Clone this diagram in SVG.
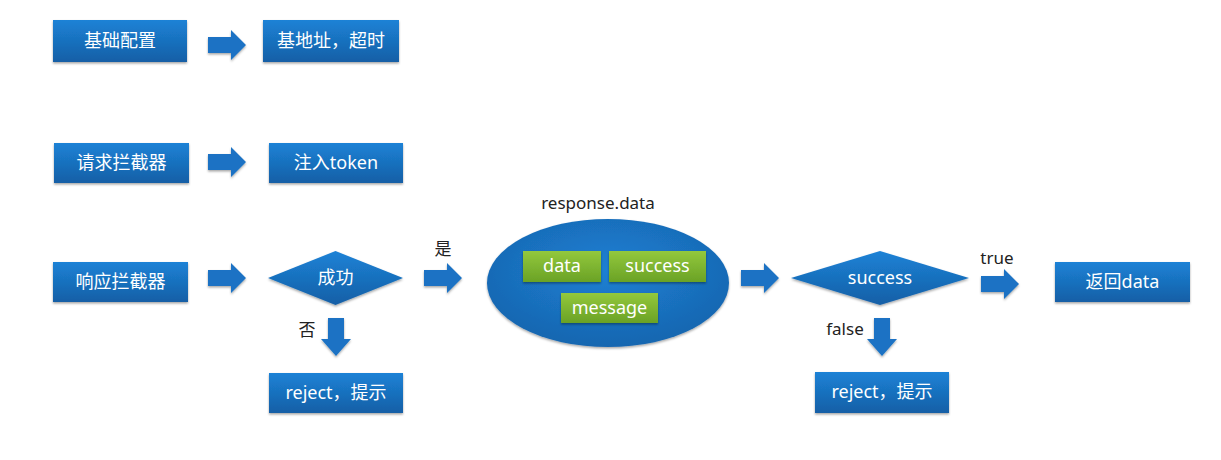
<svg xmlns="http://www.w3.org/2000/svg" width="1221" height="460" viewBox="0 0 1221 460">
<defs>
<linearGradient id="gb" x1="0" y1="0" x2="0" y2="1">
<stop offset="0" stop-color="#1c82d6"/>
<stop offset="1" stop-color="#155fa6"/>
</linearGradient>
<linearGradient id="gg" x1="0" y1="0" x2="0" y2="1">
<stop offset="0" stop-color="#93c83c"/>
<stop offset="1" stop-color="#6aa226"/>
</linearGradient>
<radialGradient id="ge" cx="0.5" cy="0.4" r="0.6">
<stop offset="0" stop-color="#1d80d4"/>
<stop offset="1" stop-color="#1766b0"/>
</radialGradient>
<filter id="sh" x="-10%" y="-10%" width="120%" height="130%">
<feDropShadow dx="0" dy="1.5" stdDeviation="1.2" flood-color="#000" flood-opacity="0.35"/>
</filter>
<path id="ar" d="M0,7 H23 V0 L38,15 L23,30 V23 H0 Z"/>
<path id="ad" d="M7,0 H23 V21 H30 L15,38 L0,21 H7 Z"/>
</defs>
<style>
.box{fill:url(#gb);filter:url(#sh)}
.gbox{fill:url(#gg);filter:url(#sh)}
.arr{fill:#1a72c4;filter:url(#sh)}
.t{font-family:"Noto Sans","Noto Sans CJK SC",sans-serif;font-size:18px;fill:#fff;text-anchor:middle}
.l{font-family:"Noto Sans","Noto Sans CJK SC",sans-serif;font-size:17px;fill:#222;text-anchor:middle}
</style>
<rect width="1221" height="460" fill="#fff"/>
<g id="connectors">
<use href="#ar" class="arr" x="208" y="30"/>
<use href="#ar" class="arr" x="208" y="147"/>
<use href="#ar" class="arr" x="208" y="263"/>
<use href="#ar" class="arr" x="424" y="263"/>
<use href="#ad" class="arr" x="321" y="318"/>
<use href="#ar" class="arr" x="741" y="263"/>
<use href="#ar" class="arr" x="981" y="269"/>
<use href="#ad" class="arr" x="867" y="318"/>
<text class="l" x="443" y="255">是</text>
<text class="l" x="307" y="336">否</text>
<text class="l" x="997" y="264">true</text>
<text class="l" x="845" y="335">false</text>
</g>
<g id="n-base">
<rect class="box" x="53" y="20" width="134" height="42"/>
<text class="t" x="120" y="47">基础配置</text>
</g>
<g id="n-baseurl">
<rect class="box" x="263" y="20" width="136" height="42"/>
<text class="t" x="331" y="47">基地址，超时</text>
</g>
<g id="n-req">
<rect class="box" x="54" y="143" width="135" height="40"/>
<text class="t" x="121.5" y="169">请求拦截器</text>
</g>
<g id="n-token">
<rect class="box" x="269" y="143" width="134" height="40"/>
<text class="t" x="336" y="169">注入token</text>
</g>
<g id="n-resp">
<rect class="box" x="53" y="262" width="135" height="40"/>
<text class="t" x="120.5" y="288">响应拦截器</text>
</g>
<g id="n-ok">
<polygon points="268,278 335.5,251 403,278 335.5,305" fill="url(#gb)" filter="url(#sh)"/>
<text class="t" x="335.5" y="284">成功</text>
</g>
<g id="n-reject1">
<rect class="box" x="269" y="373" width="134" height="40"/>
<text class="t" x="336" y="399">reject，提示</text>
</g>
<g id="n-data">
<text class="l" x="598" y="209">response.data</text>
<ellipse cx="608" cy="283" rx="121" ry="64" fill="url(#ge)" filter="url(#sh)"/>
<rect class="gbox" x="523" y="251" width="78" height="31"/>
<text class="t" x="562" y="272">data</text>
<rect class="gbox" x="609" y="251" width="97" height="31"/>
<text class="t" x="657.5" y="272">success</text>
<rect class="gbox" x="561" y="293" width="97" height="30"/>
<text class="t" x="609.5" y="314">message</text>
</g>
<g id="n-success">
<polygon points="791,278 880,251 969,278 880,305" fill="url(#gb)" filter="url(#sh)"/>
<text class="t" x="880" y="284">success</text>
</g>
<g id="n-return">
<rect class="box" x="1055" y="262" width="135" height="40"/>
<text class="t" x="1122.5" y="288">返回data</text>
</g>
<g id="n-reject2">
<rect class="box" x="815" y="372" width="134" height="41"/>
<text class="t" x="882" y="398">reject，提示</text>
</g>
</svg>
